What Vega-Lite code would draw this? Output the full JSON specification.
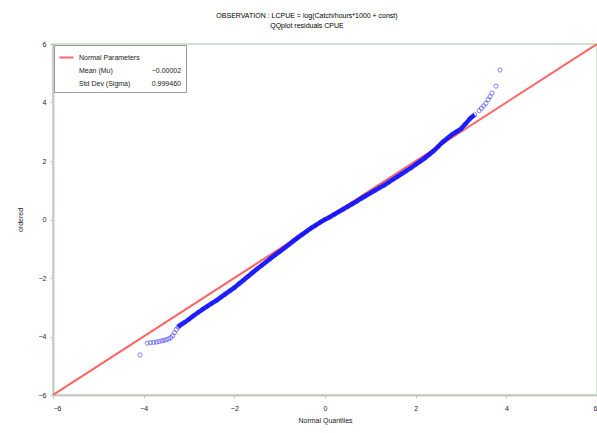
{
  "$schema": "https://vega.github.io/schema/vega-lite/v6.json",
  "autosize": {"type": "none"},
  "padding": {"left": 53, "top": 44, "right": 0, "bottom": 38},
  "width": 544,
  "height": 351,
  "background": "white",
  "title": {
    "text": "OBSERVATION : LCPUE = log(Catch/hours*1000 + const)",
    "subtitle": "QQplot residuals CPUE",
    "anchor": "middle",
    "dx": -18,
    "offset": 11,
    "fontSize": 7,
    "fontWeight": "normal",
    "font": "Liberation Sans",
    "subtitleFontSize": 7,
    "subtitleFont": "Liberation Sans",
    "subtitleColor": "black",
    "subtitlePadding": 3,
    "color": "black"
  },
  "config": {
    "view": {"stroke": "#cfe2cf", "strokeWidth": 2},
    "axis": {
      "grid": false,
      "labelFont": "Liberation Sans",
      "labelFontSize": 7,
      "labelColor": "#222",
      "titleFont": "Liberation Sans",
      "titleFontSize": 7,
      "titleFontWeight": "normal",
      "titleColor": "#222",
      "domainColor": "#c8c8c8",
      "domainWidth": 2,
      "tickColor": "#a8d0a8",
      "tickSize": 3
    },
    "legend": {
      "labelFont": "Liberation Sans",
      "labelFontSize": 7,
      "labelColor": "#222"
    }
  },
  "datasets": {
    "qq": [
      {"q": -4.08, "r": -4.63}, {"q": -3.92, "r": -4.23}, {"q": -3.85, "r": -4.21}, {"q": -3.78, "r": -4.2},
      {"q": -3.72, "r": -4.19}, {"q": -3.66, "r": -4.17}, {"q": -3.6, "r": -4.15}, {"q": -3.55, "r": -4.13},
      {"q": -3.5, "r": -4.11}, {"q": -3.45, "r": -4.08}, {"q": -3.4, "r": -4.04}, {"q": -3.36, "r": -3.97},
      {"q": -3.32, "r": -3.87}, {"q": -3.28, "r": -3.76}, {"q": -3.24, "r": -3.68}, {"q": -3.2, "r": -3.62},
      {"q": -3.15, "r": -3.57}, {"q": -3.1, "r": -3.52}, {"q": -3.0, "r": -3.41}, {"q": -2.9, "r": -3.29},
      {"q": -2.8, "r": -3.18}, {"q": -2.7, "r": -3.07}, {"q": -2.6, "r": -2.97}, {"q": -2.5, "r": -2.87},
      {"q": -2.4, "r": -2.77}, {"q": -2.3, "r": -2.66}, {"q": -2.2, "r": -2.55}, {"q": -2.1, "r": -2.44},
      {"q": -2.0, "r": -2.33}, {"q": -1.9, "r": -2.2}, {"q": -1.8, "r": -2.08}, {"q": -1.7, "r": -1.95},
      {"q": -1.6, "r": -1.82}, {"q": -1.5, "r": -1.69}, {"q": -1.4, "r": -1.57}, {"q": -1.3, "r": -1.45},
      {"q": -1.2, "r": -1.33}, {"q": -1.1, "r": -1.21}, {"q": -1.0, "r": -1.1}, {"q": -0.9, "r": -0.98},
      {"q": -0.8, "r": -0.86}, {"q": -0.7, "r": -0.74}, {"q": -0.6, "r": -0.62}, {"q": -0.5, "r": -0.51},
      {"q": -0.4, "r": -0.4}, {"q": -0.3, "r": -0.29}, {"q": -0.2, "r": -0.19}, {"q": -0.1, "r": -0.09},
      {"q": 0.0, "r": 0.0}, {"q": 0.1, "r": 0.08}, {"q": 0.2, "r": 0.17}, {"q": 0.3, "r": 0.26},
      {"q": 0.4, "r": 0.35}, {"q": 0.5, "r": 0.44}, {"q": 0.6, "r": 0.53}, {"q": 0.7, "r": 0.62},
      {"q": 0.8, "r": 0.72}, {"q": 0.9, "r": 0.81}, {"q": 1.0, "r": 0.9}, {"q": 1.1, "r": 0.99},
      {"q": 1.2, "r": 1.08}, {"q": 1.3, "r": 1.17}, {"q": 1.4, "r": 1.27}, {"q": 1.5, "r": 1.37},
      {"q": 1.6, "r": 1.47}, {"q": 1.7, "r": 1.57}, {"q": 1.8, "r": 1.67}, {"q": 1.9, "r": 1.77},
      {"q": 2.0, "r": 1.88}, {"q": 2.1, "r": 1.99}, {"q": 2.2, "r": 2.1}, {"q": 2.3, "r": 2.22},
      {"q": 2.4, "r": 2.35}, {"q": 2.5, "r": 2.5}, {"q": 2.6, "r": 2.65}, {"q": 2.7, "r": 2.78},
      {"q": 2.8, "r": 2.9}, {"q": 2.9, "r": 3.0}, {"q": 3.0, "r": 3.1}, {"q": 3.1, "r": 3.27},
      {"q": 3.2, "r": 3.45}, {"q": 3.3, "r": 3.58}, {"q": 3.4, "r": 3.72}, {"q": 3.45, "r": 3.8},
      {"q": 3.5, "r": 3.88}, {"q": 3.55, "r": 3.97}, {"q": 3.6, "r": 4.1}, {"q": 3.64, "r": 4.2},
      {"q": 3.68, "r": 4.32}, {"q": 3.77, "r": 4.56}, {"q": 3.86, "r": 5.11}
    ],
    "ref": [
      {"q": -6, "r": -6, "series": "Normal Parameters"},
      {"q": 6, "r": 6, "series": "Normal Parameters"}
    ]
  },
  "layer": [
    {
      "data": {"name": "ref"},
      "mark": {"type": "line", "strokeWidth": 2, "clip": true},
      "encoding": {
        "x": {"field": "q", "type": "quantitative", "scale": {"domain": [-6, 6], "nice": false}, "axis": {"values": [-6, -4, -2, 0, 2, 4, 6], "title": "Normal Quantiles", "labelPadding": 6, "titlePadding": 5}},
        "y": {"field": "r", "type": "quantitative", "scale": {"domain": [-6, 6], "nice": false}, "axis": {"values": [-6, -4, -2, 0, 2, 4, 6], "title": "ordered", "labelPadding": 4, "titlePadding": 15}},
        "color": {
          "field": "series",
          "type": "nominal",
          "scale": {
            "domain": ["Normal Parameters", "Mean (Mu)\u00a0\u00a0\u00a0\u00a0\u00a0\u00a0\u00a0\u00a0\u00a0\u00a0\u00a0\u00a0\u00a0\u00a0\u00a0\u00a0\u00a0\u00a0\u00a0\u00a0−0.00002", "Std Dev (Sigma)\u00a0\u00a0\u00a0\u00a0\u00a0\u00a0\u00a0\u00a0\u00a0\u00a0\u00a00.999460"],
            "range": ["#ff6464", "transparent", "transparent"]
          },
          "legend": {
            "title": null,
            "orient": "top-left",
            "offset": 1,
            "padding": 4,
            "strokeColor": "#9a9a9a",
            "fillColor": "white",
            "symbolType": "stroke",
            "symbolSize": 200,
            "symbolStrokeWidth": 2,
            "rowPadding": 0,
            "labelOffset": 4,
            "labelLimit": 200
          }
        }
      }
    },
    {
      "data": {"name": "qq"},
      "transform": [{"filter": "datum.q > -3.25 && datum.q < 3.35"}],
      "mark": {"type": "line", "color": "#0000ff", "strokeWidth": 4.5, "opacity": 0.9},
      "encoding": {
        "x": {"field": "q", "type": "quantitative"},
        "y": {"field": "r", "type": "quantitative"}
      }
    },
    {
      "data": {"name": "qq"},
      "mark": {"type": "point", "shape": "circle", "color": "#3030ff", "size": 18, "filled": false, "strokeWidth": 1, "opacity": 0.6},
      "encoding": {
        "x": {"field": "q", "type": "quantitative"},
        "y": {"field": "r", "type": "quantitative"}
      }
    }
  ]
}
